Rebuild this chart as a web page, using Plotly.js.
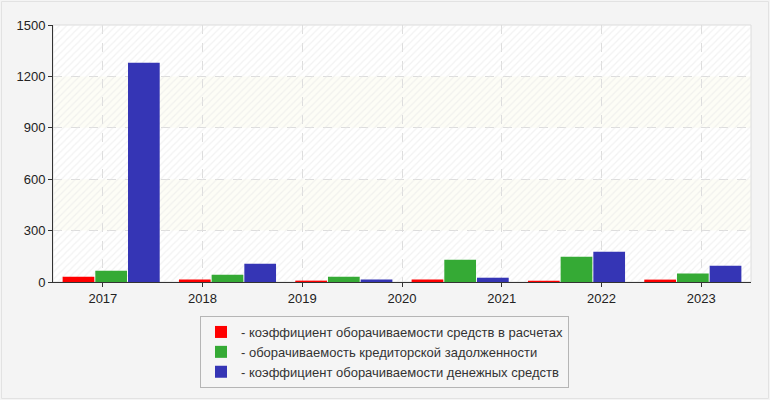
<!DOCTYPE html>
<html>
<head>
<meta charset="utf-8">
<script src="https://cdn.plot.ly/plotly-3.0.1.min.js"></script>
<style>
html,body{margin:0;padding:0;background:#f4f4f4;}
#chart{width:770px;height:400px;}
</style>
</head>
<body>
<div id="chart"></div>
<script>
// Axis tick labels (years shown on the horizontal axis)
var tickLabels = ['2017','2018','2019','2020','2021','2022','2023'];
// Bar groups (six groups drawn in the reference)
var barGroups = ['g1','g2','g3','g4','g5','g6'];
// Series
var seriesNames = [
  '- коэффициент оборачиваемости средств в расчетах',
  '- оборачиваемость кредиторской задолженности',
  '- коэффициент оборачиваемости денежных средств'
];
var receivablesTurnover = [31, 14, 8, 14, 8, 14];
var payablesTurnover = [66, 43, 31, 130, 148, 49];
var cashTurnover = [1280, 107, 14, 25, 177, 95];
var seriesColors = ['#ff0000', '#35aa35', '#3535b5'];
var yMax = 1500;

var W = 770, H = 400, mL = 53, mR = 19, mT = 25, mB = 118;
var pw = W - mL - mR, ph = H - mT - mB;

var tickIdx = tickLabels.map(function(_, i){ return i; });

var traces = [];
// hatched plot background
traces.push({
  type: 'bar', x: [ (tickLabels.length - 1) / 2 ], y: [yMax], width: [tickLabels.length],
  xaxis: 'x', yaxis: 'y', showlegend: false, hoverinfo: 'skip',
  marker: { color: 'rgba(0,0,0,0)', line: {width: 0},
    pattern: { shape: '/', fgcolor: '#e6e6e6', bgcolor: 'rgba(0,0,0,0)', size: 5, solidity: 0.25, fillmode: 'overlay' } }
});
[receivablesTurnover, payablesTurnover, cashTurnover].forEach(function(vals, k){
  traces.push({
    type: 'bar', name: seriesNames[k], x: barGroups, y: vals,
    xaxis: 'x2', yaxis: 'y',
    marker: { color: seriesColors[k], line: {width: 0} },
    hoverinfo: 'y'
  });
});

var shapes = [];
[[300,600],[900,1200]].forEach(function(b){
  shapes.push({ type: 'rect', xref: 'paper', yref: 'y', x0: 0, x1: 1, y0: b[0], y1: b[1],
    fillcolor: '#fdfdf6', line: {width: 0}, layer: 'below' });
});
// light top/right frame of plot
shapes.push({ type: 'rect', xref: 'paper', yref: 'paper', x0: 0, x1: 1, y0: 0, y1: 1,
  line: {color: '#dcdcdc', width: 1}, fillcolor: 'rgba(0,0,0,0)', layer: 'below' });
// outer frame
shapes.push({ type: 'rect', xref: 'paper', yref: 'paper',
  x0: (1.5 - mL) / pw, x1: 1 + (mR - 1.5) / pw, y0: -(mB - 1.5) / ph, y1: 1 + (mT - 1.5) / ph,
  line: {color: '#e2e2e2', width: 1}, fillcolor: 'rgba(0,0,0,0)', layer: 'below' });

var layout = {
  width: W, height: H,
  margin: { l: mL, r: mR, t: mT, b: mB, pad: 0 },
  paper_bgcolor: '#f4f4f4',
  plot_bgcolor: '#ffffff',
  font: { family: 'Liberation Sans, Arial, sans-serif', size: 13, color: '#222' },
  barmode: 'group',
  bargap: 0.157,
  bargroupgap: 0.03,
  showlegend: true,
  xaxis: {
    type: 'linear', range: [-0.5, tickLabels.length - 0.5],
    tickmode: 'array', tickvals: tickIdx, ticktext: tickLabels,
    showgrid: true, gridcolor: '#dddddd', griddash: 'dash', gridwidth: 1,
    zeroline: false, showline: true, linecolor: '#333333', linewidth: 1,
    ticks: 'outside', ticklen: 4, tickcolor: '#333333',
    tickfont: { size: 13, color: '#222' }, fixedrange: true
  },
  xaxis2: {
    type: 'category', overlaying: 'x', range: [-0.5, barGroups.length - 0.5],
    visible: false, fixedrange: true
  },
  yaxis: {
    range: [0, yMax], dtick: 300, tick0: 0,
    showgrid: true, gridcolor: '#dddddd', griddash: 'dash', gridwidth: 1,
    zeroline: false, showline: true, linecolor: '#333333', linewidth: 1,
    ticks: 'outside', ticklen: 4, tickcolor: '#333333',
    tickfont: { size: 13, color: '#222' }, fixedrange: true
  },
  legend: {
    orientation: 'v', x: (384.5 - mL) / pw, xanchor: 'center',
    y: -(316 - (mT + ph)) / ph, yanchor: 'top',
    bgcolor: '#f5f5f5', bordercolor: '#b5b5b5', borderwidth: 1,
    font: { size: 13, color: '#333' }, traceorder: 'normal', tracegroupgap: 0
  },
  shapes: shapes
};

Plotly.newPlot('chart', traces, layout, { displayModeBar: false, staticPlot: true });
</script>
</body>
</html>
